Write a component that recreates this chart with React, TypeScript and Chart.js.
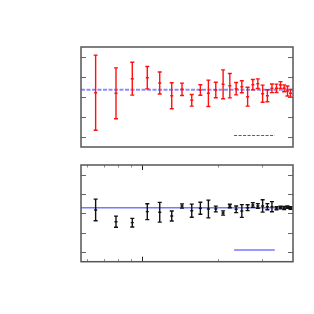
import React, { useEffect, useRef } from "react";
import { Chart, registerables } from "chart.js";

Chart.register(...registerables);

// bin centres (log x axis)
const xBins = [
  0.651, 0.785, 0.912, 1.047, 1.174, 1.311, 1.441, 1.576, 1.706, 1.837, 1.966, 2.103, 2.237,
  2.371, 2.498, 2.635, 2.764, 2.894, 3.025, 3.16, 3.296, 3.436, 3.565, 3.688, 3.802, 3.908,
];
const xMin = 0.569;
const xMax = 4.0;

// top panel (red)
const topY = [
  2.215, 2.185, 2.915, 2.965, 2.7, 2.065, 2.385, 1.835, 2.35, 2.185, 2.35, 2.635, 2.565,
  2.415, 2.515, 2.015, 2.615, 2.665, 2.165, 2.065, 2.435, 2.435, 2.6, 2.435, 2.3, 2.185,
];
const topErr = [
  1.88, 1.27, 0.82, 0.56, 0.55, 0.65, 0.31, 0.29, 0.26, 0.66, 0.39, 0.72, 0.61,
  0.31, 0.3, 0.47, 0.26, 0.24, 0.43, 0.3, 0.215, 0.21, 0.17, 0.17, 0.25, 0.19,
];
const topRef = 2.365;

// bottom panel (black)
const botY = [
  2.175, 1.569, 1.518, 2.087, 2.056, 1.864, 2.382, 2.138, 2.262, 2.226, 2.226, 2.02, 2.382,
  2.21, 2.123, 2.293, 2.433, 2.382, 2.382, 2.345, 2.345, 2.27, 2.3, 2.28, 2.32, 2.28,
];
const botErr = [
  0.56, 0.29, 0.22, 0.41, 0.51, 0.26, 0.11, 0.34, 0.31, 0.46, 0.15, 0.11, 0.09,
  0.17, 0.33, 0.15, 0.12, 0.12, 0.32, 0.16, 0.26, 0.08, 0.07, 0.08, 0.06, 0.07,
];
const botRef = 2.292;

const yTicks = [0, 1, 2, 3, 4];
const xMinorTicks = [0.6, 0.7, 0.8, 0.9, 2, 3];
const xMajorTicks = [1];

const panelPlugin = {
  id: "panel",
  afterDatasetsDraw(chart: any) {
    const ctx = chart.ctx;
    const xs = chart.scales.x;
    const ys = chart.scales.y;
    const ca = chart.chartArea;
    ctx.save();
    ctx.beginPath();
    ctx.rect(ca.left, ca.top, ca.right - ca.left, ca.bottom - ca.top);
    ctx.clip();
    chart.data.datasets.forEach((ds: any) => {
      if (!ds.errors) return;
      ctx.strokeStyle = ds.barColor;
      ctx.lineWidth = 1.4;
      ds.data.forEach((p: any, i: number) => {
        const px = xs.getPixelForValue(p.x);
        const py = ys.getPixelForValue(p.y);
        const y1 = ys.getPixelForValue(p.y + ds.errors[i]);
        const y2 = ys.getPixelForValue(p.y - ds.errors[i]);
        ctx.beginPath();
        ctx.moveTo(px, y1);
        ctx.lineTo(px, y2);
        ctx.moveTo(px - 2, y1);
        ctx.lineTo(px + 2, y1);
        ctx.moveTo(px - 2, y2);
        ctx.lineTo(px + 2, y2);
        ctx.moveTo(px - 1.5, py);
        ctx.lineTo(px + 1.5, py);
        ctx.stroke();
      });
    });
    ctx.restore();
  },
  afterDraw(chart: any, _args: any, opts: any) {
    const ctx = chart.ctx;
    const ca = chart.chartArea;
    const xs = chart.scales.x;
    const ys = chart.scales.y;
    ctx.save();
    if (opts.legend) {
      const lg = opts.legend;
      ctx.strokeStyle = lg.color;
      ctx.lineWidth = lg.width;
      ctx.setLineDash(lg.dash || []);
      const lx1 = ca.left + (ca.right - ca.left) * 0.722;
      const lx2 = ca.left + (ca.right - ca.left) * 0.914;
      const ly = ca.top + (ca.bottom - ca.top) * lg.yFrac;
      ctx.beginPath();
      ctx.moveTo(lx1, ly);
      ctx.lineTo(lx2, ly);
      ctx.stroke();
      ctx.setLineDash([]);
    }
    ctx.strokeStyle = "#666";
    ctx.lineWidth = 1;
    yTicks.forEach((t) => {
      const py = Math.round(ys.getPixelForValue(t)) + 0.5;
      ctx.beginPath();
      ctx.moveTo(ca.left, py);
      ctx.lineTo(ca.left + 5, py);
      ctx.moveTo(ca.right, py);
      ctx.lineTo(ca.right - 5, py);
      ctx.stroke();
    });
    if (opts.xTicks) {
      xMinorTicks.forEach((t) => {
        const px = Math.round(xs.getPixelForValue(t)) + 0.5;
        ctx.strokeStyle = "#888";
        ctx.beginPath();
        ctx.moveTo(px, ca.top);
        ctx.lineTo(px, ca.top + 2.5);
        ctx.moveTo(px, ca.bottom);
        ctx.lineTo(px, ca.bottom - 2.5);
        ctx.stroke();
      });
      xMajorTicks.forEach((t) => {
        const px = Math.round(xs.getPixelForValue(t)) + 0.5;
        ctx.strokeStyle = "#222";
        ctx.beginPath();
        ctx.moveTo(px, ca.top);
        ctx.lineTo(px, ca.top + 5);
        ctx.moveTo(px, ca.bottom);
        ctx.lineTo(px, ca.bottom - 5);
        ctx.stroke();
      });
    }
    ctx.strokeStyle = "#555";
    ctx.lineWidth = 1.5;
    ctx.strokeRect(ca.left, ca.top, ca.right - ca.left, ca.bottom - ca.top);
    ctx.restore();
  },
};

function Panel(props: {
  ys: number[];
  errs: number[];
  refVal: number;
  color: string;
  refColor: string;
  refWidth: number;
  refDash: number[];
  padding: any;
  legend: any;
  xTicks: boolean;
  top: number;
}) {
  const canvasRef = useRef<HTMLCanvasElement | null>(null);
  useEffect(() => {
    const c = canvasRef.current;
    if (!c) return;
    const chart = new Chart(c, {
      type: "scatter",
      data: {
        datasets: [
          {
            type: "line",
            data: [
              { x: xMin, y: props.refVal },
              { x: xMax, y: props.refVal },
            ],
            borderColor: props.refColor,
            borderWidth: props.refWidth,
            borderDash: props.refDash,
            pointRadius: 0,
            fill: false,
          } as any,
          {
            data: xBins.map((x, i) => ({ x, y: props.ys[i] })),
            pointRadius: 0,
            errors: props.errs,
            barColor: props.color,
          } as any,
        ],
      },
      options: {
        animation: false,
        responsive: false,
        layout: { padding: props.padding },
        scales: {
          x: { type: "logarithmic", min: xMin, max: xMax, display: false },
          y: { type: "linear", min: -0.5, max: 4.5, display: false },
        },
        plugins: {
          legend: { display: false },
          tooltip: { enabled: false },
          panel: { legend: props.legend, xTicks: props.xTicks },
        } as any,
      },
      plugins: [panelPlugin as any],
    });
    return () => chart.destroy();
  }, []);
  return (
    <canvas
      ref={canvasRef}
      width={314}
      height={157}
      style={{ position: "absolute", left: 0, top: props.top, width: 314, height: 157 }}
    />
  );
}

export default function App() {
  return (
    <div style={{ position: "absolute", left: 0, top: 0, width: 314, height: 314, background: "#fff" }}>
      <Panel
        ys={topY}
        errs={topErr}
        refVal={topRef}
        color="#ff1010"
        refColor="rgba(110,110,255,0.8)"
        refWidth={2}
        refDash={[4, 1.5]}
        padding={{ left: 81, right: 21, top: 47, bottom: 10 }}
        legend={{ color: "#4848ff", width: 1.2, dash: [3, 1.5], yFrac: 0.885 }}
        xTicks={false}
        top={0}
      />
      <Panel
        ys={botY}
        errs={botErr}
        refVal={botRef}
        color="#111"
        refColor="#7777ff"
        refWidth={1.5}
        refDash={[]}
        padding={{ left: 81, right: 21, top: 8, bottom: 52.3 }}
        legend={{ color: "#9999ff", width: 2, yFrac: 0.879 }}
        xTicks={true}
        top={157}
      />
    </div>
  );
}
